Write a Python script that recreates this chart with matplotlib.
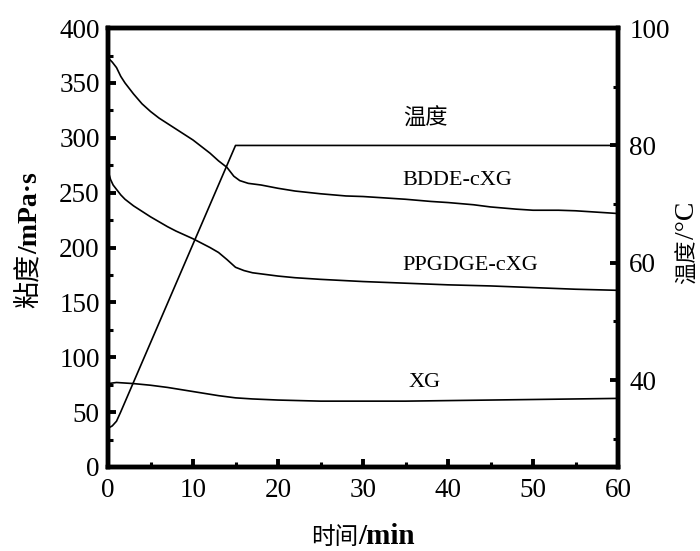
import matplotlib
matplotlib.use("Agg")
import matplotlib.pyplot as plt
from matplotlib.ticker import MultipleLocator

plt.rcParams['font.family'] = ['Liberation Serif', 'Noto Sans CJK SC']

# ---- data ----
bdde_t = [0, 0.5, 1, 1.5, 2, 3, 4, 5, 6, 7, 8, 9, 10, 11, 12, 13, 14, 14.8, 15.5, 16.5,
          18, 20, 22, 25, 28, 30, 33, 35, 38, 40, 43, 45, 48, 50, 53, 55, 58, 60]
bdde_v = [373, 369, 364, 356, 350, 340, 331, 324, 318, 313, 308, 303, 298, 292, 286, 279,
          273, 265, 261, 258.5, 257, 254, 251.5, 249, 247, 246.5, 245, 244, 242, 241, 239,
          237, 235, 234, 234, 233.5, 232, 231]

ppg_t = [0, 0.3, 0.6, 1, 1.5, 2, 3, 4, 5, 6, 7, 8, 9, 10, 11, 12, 13, 14, 15, 16, 17, 18,
         20, 22, 25, 30, 35, 40, 45, 50, 55, 60]
ppg_v = [270, 262, 257, 253, 248, 244, 238, 233, 228, 223.5, 219, 215, 211.5, 208, 204,
         200, 195.5, 189, 182, 179, 177, 176, 174, 172.5, 171, 169, 167.5, 166, 165, 163.5,
         162, 161]

xg_t = [0, 1, 2, 3, 5, 7, 9, 11, 13, 15, 17, 20, 25, 30, 35, 40, 45, 50, 55, 60]
xg_v = [76, 77, 76.5, 76, 74.5, 72.5, 70, 67.5, 65, 63, 62, 61, 60, 60, 60, 60.5, 61, 61.5,
        62, 62.5]

temp_t = [0, 0.5, 1, 1.5, 15, 60]
temp_v = [31.8, 32.2, 33.0, 34.6, 80, 80]

labels = ['温度', 'BDDE-cXG', 'PPGDGE-cXG', 'XG']
xlabel_parts = ['时间', '/min']
ylabel_parts = ['粘度', '/mPa·s']
y2label_parts = ['温度', '/°C']

CJK = 'Noto Sans CJK SC'
SERIF = 'Liberation Serif'

fig = plt.figure(figsize=(7, 5.51), dpi=100)
ax = fig.add_axes([0.1543, 0.1525, 0.7286, 0.7965])
ax2 = ax.twinx()

lw = 1.2
ax.plot(bdde_t, bdde_v, color='black', lw=lw)
ax.plot(ppg_t, ppg_v, color='black', lw=lw)
ax.plot(xg_t, xg_v, color='black', lw=lw)
ax2.plot(temp_t, temp_v, color='black', lw=lw)

ax.set_xlim(0, 60)
ax.set_ylim(0, 400)
ax2.set_ylim(25.2, 100)

ax.xaxis.set_major_locator(MultipleLocator(10))
ax.xaxis.set_minor_locator(MultipleLocator(5))
ax.yaxis.set_major_locator(MultipleLocator(50))
ax.yaxis.set_minor_locator(MultipleLocator(25))
ax2.yaxis.set_major_locator(MultipleLocator(20))
ax2.yaxis.set_minor_locator(MultipleLocator(10))

for a in (ax, ax2):
    for s in a.spines.values():
        s.set_linewidth(3.2)

ax.tick_params(axis='both', which='major', direction='in', length=6, width=2.8,
               labelsize=19.5, pad=6, top=False, right=False)
ax.tick_params(axis='both', which='minor', direction='in', length=3.5, width=2.2,
               top=False, right=False)
ax.tick_params(axis='x', which='major', pad=8)
ax2.tick_params(axis='y', which='major', direction='in', length=6, width=2.8,
                labelsize=19.5, pad=8)
ax2.tick_params(axis='y', which='minor', direction='in', length=3.5, width=2.2)

ax.text(37.3, 317, labels[0], fontsize=16, ha='center', va='center')
ax.text(41.1, 261, labels[1], fontsize=16, ha='center', va='center')
ax.text(42.6, 184, labels[2], fontsize=16, ha='center', va='center')
ax.text(37.3, 77, labels[3], fontsize=16, ha='center', va='center')

# ---- composite axis labels (mixed CJK regular + bold serif) ----
fig.canvas.draw()
renderer = fig.canvas.get_renderer()
FW, FH = fig.bbox.width, fig.bbox.height


def place(pieces, cx, cy, rotation=0):
    objs, sizes = [], []
    for s, fs, wt, fam in pieces:
        t = fig.text(0, 0, s, fontsize=fs, fontweight=wt, family=fam,
                     ha='left', va='baseline', rotation=rotation,
                     rotation_mode='anchor')
        bb = t.get_window_extent(renderer)
        objs.append(t)
        sizes.append(bb.height if rotation == 90 else bb.width)
    total = sum(sizes)
    pos = (cy if rotation == 90 else cx) - total / 2
    for t, w in zip(objs, sizes):
        if rotation == 90:
            t.set_position((cx / FW, pos / FH))
        else:
            t.set_position((pos / FW, cy / FH))
        pos += w


place([(xlabel_parts[0], 17, 'normal', CJK),
       (xlabel_parts[1], 21, 'bold', SERIF)], 363, 7)
place([(ylabel_parts[0], 19.5, 'normal', CJK),
       (ylabel_parts[1], 20, 'bold', SERIF)], 37, 311, rotation=90)
place([(y2label_parts[0], 16, 'normal', CJK),
       (y2label_parts[1], 20, 'normal', SERIF)], 694, 308, rotation=90)

fig.savefig('out.png', dpi=100)
